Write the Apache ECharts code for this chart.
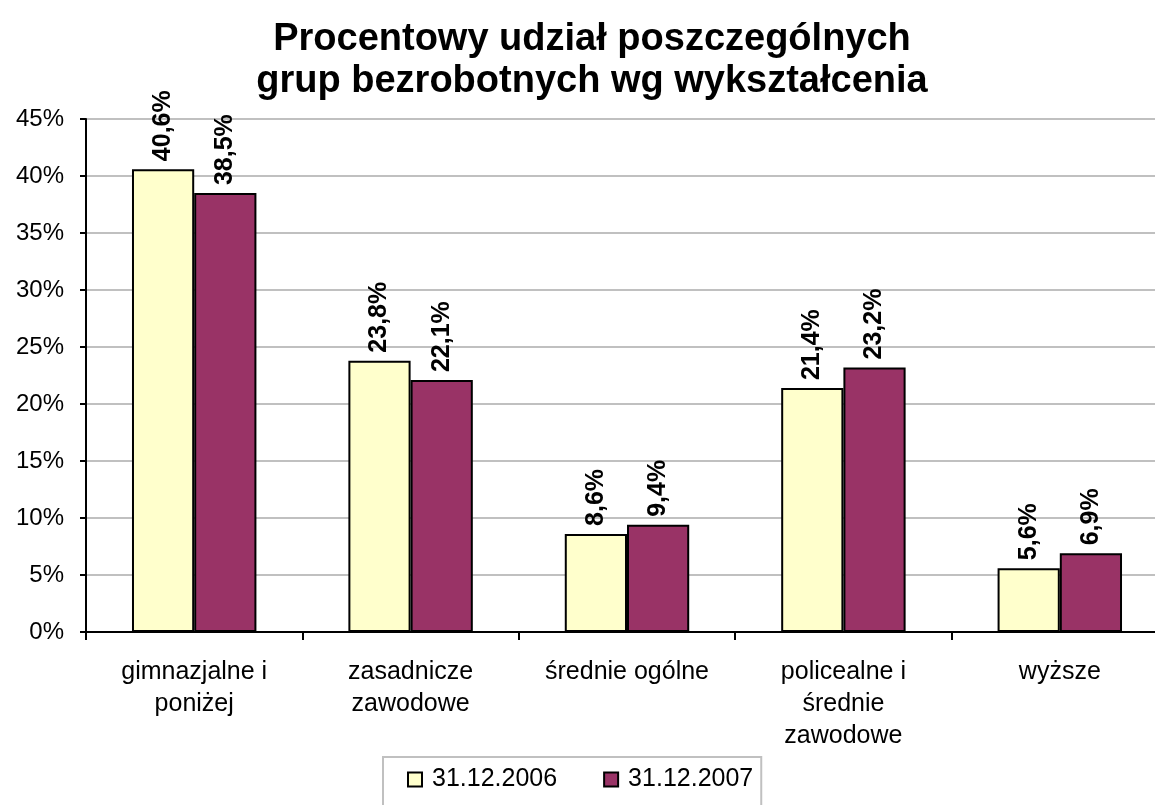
<!DOCTYPE html>
<html>
<head>
<meta charset="utf-8">
<script src="https://cdn.jsdelivr.net/npm/echarts@6/dist/echarts.min.js"></script>
<style>
  html, body { margin: 0; padding: 0; background: #fff; }
  #chart { width: 1155px; height: 805px; }
</style>
</head>
<body>
<div id="chart"></div>
<script>
var categories = ['gimnazjalne i\nponiżej', 'zasadnicze\nzawodowe', 'średnie ogólne', 'policealne i\nśrednie\nzawodowe', 'wyższe'];
var seriesNames = ['31.12.2006', '31.12.2007'];
var values2006 = [40.6, 23.8, 8.6, 21.4, 5.6];
var values2007 = [38.5, 22.1, 9.4, 23.2, 6.9];
var colors = ['#FFFFCC', '#993366'];

var font = 'Arial, "Liberation Sans", sans-serif';

function fmt(v) {
    return v.toFixed(1).replace('.', ',') + '%';
}

function makeSeries(name, data, color) {
    return {
        name: name,
        type: 'bar',
        data: data,
        barGap: '0%',
        barCategoryGap: '42.5%',
        itemStyle: { color: color, borderColor: '#000', borderWidth: 2 },
        label: {
            show: true,
            position: 'top',
            rotate: 90,
            align: 'left',
            verticalAlign: 'middle',
            distance: 8,
            fontFamily: font,
            fontSize: 25,
            fontWeight: 'bold',
            color: '#000',
            formatter: function (p) { return fmt(p.value); }
        }
    };
}

var chart = echarts.init(document.getElementById('chart'));
chart.setOption({
    animation: false,
    backgroundColor: '#fff',
    title: {
        text: 'Procentowy udział poszczególnych\ngrup bezrobotnych wg wykształcenia',
        left: 587,
        textAlign: 'center',
        top: 14,
        textStyle: {
            fontFamily: font,
            fontSize: 38,
            fontWeight: 'bold',
            color: '#000',
            lineHeight: 42
        }
    },
    legend: {
        data: seriesNames.map(function (n) {
            return { name: n, itemStyle: { borderColor: '#000', borderWidth: 2 } };
        }),
        left: 383,
        top: 757,
        icon: 'rect',
        itemWidth: 14,
        itemHeight: 14,
        itemGap: 46,
        padding: [10, 8, 30, 24],
        borderColor: '#c0c0c0',
        borderWidth: 2,
        textStyle: { fontFamily: font, fontSize: 25, color: '#000', padding: [0, 0, 0, 5] }
    },
    grid: {
        left: 86,
        width: 1082,
        top: 119,
        bottom: 173,
        containLabel: false,
        outerBoundsMode: 'none'
    },
    xAxis: {
        type: 'category',
        data: categories,
        axisLine: { lineStyle: { color: '#000', width: 2 } },
        axisTick: { show: true, length: 8, lineStyle: { color: '#000', width: 2 } },
        axisLabel: {
            fontFamily: font,
            fontSize: 25,
            color: '#000',
            lineHeight: 32,
            margin: 24,
            interval: 0
        }
    },
    yAxis: {
        type: 'value',
        min: 0,
        max: 45,
        interval: 5,
        axisLine: { show: true, lineStyle: { color: '#000', width: 2 } },
        axisTick: { show: true, length: 6, lineStyle: { color: '#000', width: 2 } },
        axisLabel: {
            fontFamily: font,
            fontSize: 24,
            color: '#000',
            margin: 22,
            formatter: '{value}%'
        },
        splitLine: { lineStyle: { color: '#c0c0c0', width: 2 } }
    },
    series: [
        makeSeries(seriesNames[0], values2006, colors[0]),
        makeSeries(seriesNames[1], values2007, colors[1])
    ]
});
</script>
</body>
</html>
